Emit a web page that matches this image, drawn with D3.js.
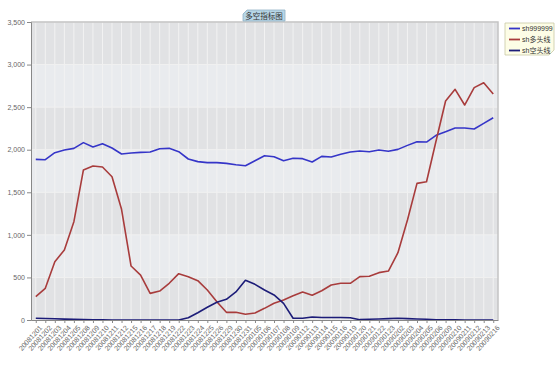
<!DOCTYPE html>
<html><head><meta charset="utf-8">
<script src="https://cdn.jsdelivr.net/npm/d3@7"></script>
<style>body{margin:0;background:#fff}svg{display:block}</style>
</head><body>
<script>
const dates = ["20081201","20081202","20081203","20081204","20081205","20081208","20081209","20081210","20081211","20081212","20081215","20081216","20081217","20081218","20081219","20081222","20081223","20081224","20081225","20081226","20081229","20081230","20081231","20090105","20090106","20090107","20090108","20090109","20090112","20090113","20090114","20090115","20090116","20090119","20090120","20090121","20090122","20090123","20090202","20090203","20090204","20090205","20090206","20090209","20090210","20090211","20090212","20090213","20090216"];
const sh999999 = [1887,1883,1965,1997,2016,2083,2032,2071,2020,1950,1961,1969,1973,2012,2016,1977,1891,1860,1848,1848,1840,1824,1812,1871,1930,1918,1871,1899,1895,1856,1922,1914,1946,1973,1985,1977,1997,1981,2004,2051,2094,2090,2169,2212,2255,2255,2243,2310,2376];
const longLine = [274,372,685,822,1155,1762,1809,1797,1683,1300,634,528,313,340,431,544,509,462,352,215,90,90,67,82,137,196,235,285,329,290,344,411,431,431,509,513,556,575,790,1175,1605,1624,2102,2572,2709,2525,2729,2787,2654];
const shortLine = [20,18,14,10,7,4,2,1,0,0,0,0,0,0,0,0,27,86,149,208,243,329,466,419,352,294,195,20,20,35,30,30,30,27,4,8,12,16,20,16,12,8,3,2,1,0,0,0,0];
const yTicks = [0,500,1000,1500,2000,2500,3000,3500];
const seriesNames = ["sh999999","sh多头线","sh空头线"];
const seriesColors = ["#3535c8","#a83c3c","#1c1c78"];
const title = "多空指标图";

const W=560,H=369;
const L=31,R=498,T=22,B=320;
const svg=d3.select("body").append("svg").attr("width",W).attr("height",H);
const x=d3.scalePoint().domain(dates).range([L,R]).padding(0.5);
const y=d3.scaleLinear().domain([0,3500]).range([B,T]);

// background bands
const bands=d3.pairs(yTicks);
svg.append("g").selectAll("rect").data(bands).join("rect")
  .attr("x",L).attr("width",R-L)
  .attr("y",d=>y(d[1])).attr("height",d=>y(d[0])-y(d[1]))
  .attr("fill",(d,i)=>i%2===0?"#e1e2e4":"#e9ebee");
// vertical grid
svg.append("g").selectAll("line").data(dates).join("line")
  .attr("x1",d=>x(d)).attr("x2",d=>x(d)).attr("y1",T).attr("y2",B)
  .attr("stroke","#f2f2f2").attr("stroke-width",1);
// horizontal grid
svg.append("g").selectAll("line").data(yTicks).join("line")
  .attr("x1",L).attr("x2",R).attr("y1",d=>y(d)).attr("y2",d=>y(d))
  .attr("stroke","#f0f0f0").attr("stroke-width",1);
// border top/right
svg.append("path").attr("d",`M${L},${T}H${R}V${B}`).attr("fill","none").attr("stroke","#c4c4c4").attr("stroke-width",1.5);

// lines
const allSeries=[sh999999,longLine,shortLine];
const line=d3.line().x((d,i)=>x(dates[i])).y(d=>y(d));
allSeries.forEach((s,k)=>{
  svg.append("path").datum(s).attr("d",line).attr("fill","none")
    .attr("stroke",seriesColors[k]).attr("stroke-width",1.6).attr("stroke-linejoin","round");
});

// axes
const ya=svg.append("g").attr("transform",`translate(${L},0)`)
  .call(d3.axisLeft(y).tickValues(yTicks).tickSize(4).tickPadding(2).tickFormat(d3.format(",")));
ya.selectAll("text").attr("font-family","Liberation Sans, Arial").attr("font-size",7).attr("fill","#666");
ya.selectAll("line,path").attr("stroke","#888");
const xa=svg.append("g").attr("transform",`translate(0,${B})`)
  .call(d3.axisBottom(x).tickSize(3).tickSizeOuter(0));
xa.select(".domain").attr("stroke","#888");
xa.selectAll("line").attr("stroke","#888");
xa.selectAll("text").attr("font-family","Liberation Sans, Arial").attr("font-size",7).attr("fill","#666")
  .attr("text-anchor","end").attr("dy",0).attr("dx",0)
  .attr("transform","translate(2,4) rotate(-48)");

// title
const tg=svg.append("g");
tg.append("path").attr("d","M247,10H285V21H243V14Z").attr("fill","#b7d6e6").attr("stroke","#8fb0c4").attr("stroke-width",0.8);
tg.append("text").attr("x",264).attr("y",18.5).attr("text-anchor","middle")
  .attr("font-family","Noto Sans CJK SC").attr("font-size",7.5).attr("fill","#333").text(title);

// legend
const lg=svg.append("g");
lg.append("path").attr("d","M505,23H554V50L549,55H505Z").attr("fill","#fdfde6").attr("stroke","#c8c8a4").attr("stroke-width",0.8);
seriesNames.forEach((n,k)=>{
  const yy=28.5+k*11;
  lg.append("line").attr("x1",509).attr("x2",520).attr("y1",yy).attr("y2",yy).attr("stroke",seriesColors[k]).attr("stroke-width",1.8);
  lg.append("text").attr("x",522).attr("y",yy+2.5).attr("font-family","Liberation Sans, Noto Sans CJK SC").attr("font-size",7).attr("fill","#333").text(n);
});
</script>
</body></html>
